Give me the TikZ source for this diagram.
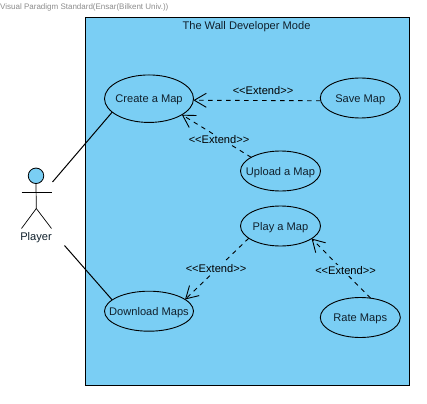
\documentclass[tikz,border=0pt]{standalone}
\usepackage{fontspec}
\setmainfont{Liberation Sans}
\usetikzlibrary{shapes.geometric,arrows.meta}
\definecolor{sysblue}{HTML}{7ACEF4}
\definecolor{wm}{HTML}{8C8C8C}
\definecolor{inktext}{HTML}{10202C}
\tikzset{
  usecase/.style={ellipse,draw=black,line width=0.9pt,fill=sysblue,inner sep=-14pt,outer sep=0pt,minimum width=#1,minimum height=40pt,font=\fontsize{11.1}{13}\selectfont,text=inktext,text height=11pt,text depth=2.5pt},
  usecase/.default=80pt,
  extendline/.style={draw=black,line width=0.9pt,dash pattern=on 4.5pt off 4.5pt,-{Straight Barb[length=12pt,width=14pt,line width=0.9pt]}},
  extendlabel/.style={font=\fontsize{11.1}{13}\selectfont,text=black,fill=sysblue,inner sep=1pt},
  plainlabel/.style={font=\fontsize{11.1}{13}\selectfont,text=inktext,inner sep=0pt},
  assoc/.style={draw=black,line width=1pt},
  limb/.style={draw=black,line width=0.7pt}
}
\begin{document}
\begin{tikzpicture}[x=1pt,y=-1pt]
\useasboundingbox (0,0) rectangle (427,403);
\fill[white] (0,0) rectangle (427,403);
\node[anchor=west,inner sep=0pt,text=wm,font=\fontsize{8}{10}\selectfont] (wmark) at (0,7.5) {Visual Paradigm Standard(Ensar(Bilkent Univ.))};
\node[draw=black,line width=0.9pt,fill=sysblue,minimum width=324pt,minimum height=367.5pt,inner sep=0pt,outer sep=0pt,anchor=north west] (sys) at (85.5,17.5) {};
\node[plainlabel] (title) at (246.5,26.5) {The Wall Developer Mode};

\node[usecase=89pt,minimum height=47.5pt] (create) at (149,98.7) {Create a Map};
\node[usecase] (save) at (360.3,98) {Save Map};
\node[usecase] (upload) at (280.5,171) {Upload a Map};
\node[usecase] (play) at (280.5,226) {Play a Map};
\node[usecase=89pt] (download) at (149,311.2) {Download Maps};
\node[usecase] (rate) at (360.3,317.5) {Rate Maps};

% actor
\node[circle,draw=black,line width=0.8pt,fill=sysblue,minimum size=15.5pt,inner sep=0pt,outer sep=0pt] (head) at (36,175.8) {};
\coordinate (armL) at (21.5,192);
\coordinate (armR) at (51.5,192);
\coordinate (hip) at (36.3,208.5);
\coordinate (legL) at (21.5,228.5);
\coordinate (legR) at (51.5,228.5);
\draw[limb] (head.south) -- (hip);
\draw[limb] (armL) -- (armR);
\draw[limb] (legL) -- (hip) -- (legR);
\node[plainlabel] (player) at (36,237.5) {Player};

% associations
\coordinate (actorA) at (52.5,182);
\coordinate (actorB) at (64.5,245.5);
\draw[assoc] (actorA) -- (create.200.7);
\draw[assoc] (actorB) -- (download.163.4);

% extend
\draw[extendline] (save.184.3) -- (create.-2.6);
\node[extendlabel,fill=none] (l1) at (263,91) {<{}<Extend>{}>};
\draw[extendline] (upload.155.4) -- (create.-26.6);
\node[extendlabel] (l2) at (219,140) {<{}<Extend>{}>};
\draw[extendline] (play.201.8) -- (download.18);
\node[extendlabel] (l3) at (216,268.5) {<{}<Extend>{}>};
\draw[extendline] (rate.62.9) -- (play.-22.4);
\node[extendlabel] (l4) at (345.5,270.5) {<{}<Extend>{}>};
\end{tikzpicture}
\end{document}
